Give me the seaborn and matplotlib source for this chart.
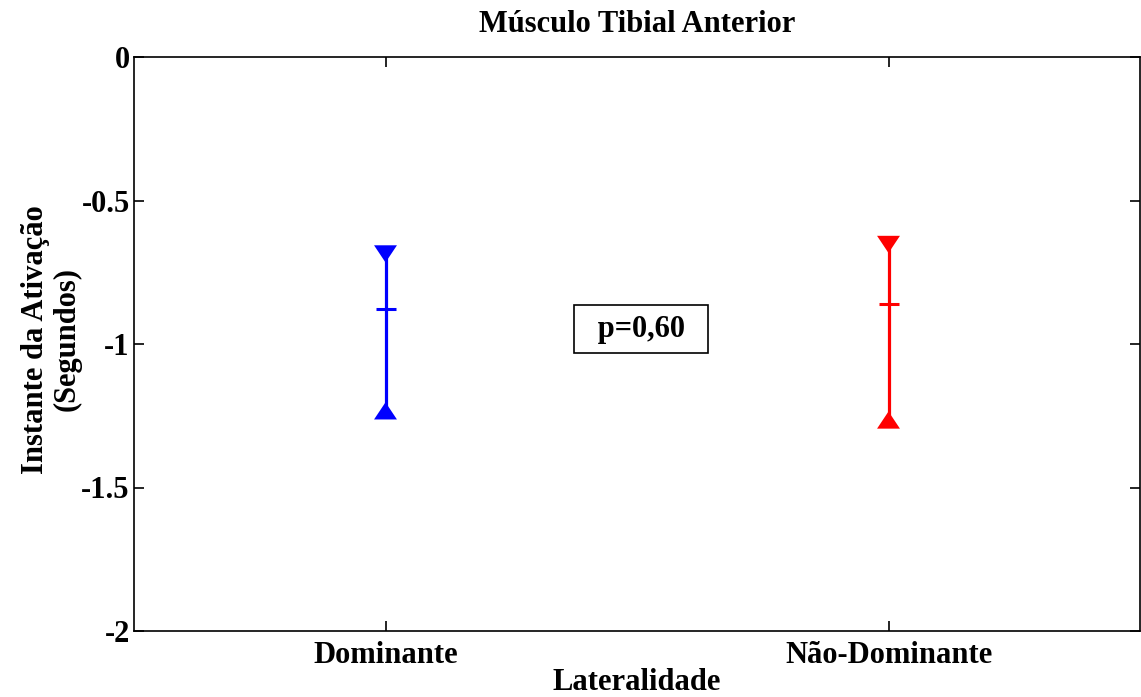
import numpy as np
import pandas as pd
import matplotlib
matplotlib.use("Agg")
import matplotlib.pyplot as plt
import seaborn as sns
from matplotlib.path import Path

categories = ["Dominante", "Não-Dominante"]
means = [-0.877, -0.862]
upper = [-0.686, -0.653]
lower = [-1.233, -1.265]
colors = ["#0000ff", "#ff0000"]
yticks = [0, -0.5, -1, -1.5, -2]
ytick_labels = ["0", "-0.5", "-1", "-1.5", "-2"]

sns.set_theme(style="white")
plt.rcParams["font.family"] = ["Liberation Serif", "DejaVu Serif"]
plt.rcParams["font.weight"] = "bold"
plt.rcParams["text.color"] = "black"
plt.rcParams["axes.labelcolor"] = "black"
plt.rcParams["xtick.color"] = "black"
plt.rcParams["ytick.color"] = "black"
plt.rcParams["axes.titleweight"] = "bold"
plt.rcParams["axes.labelweight"] = "bold"

FS = 22

fig = plt.figure(figsize=(11.41, 6.97), dpi=100)
ax = fig.add_axes([134 / 1141, 1 - 631 / 697, (1140 - 134) / 1141, (631 - 57) / 697])

pos = np.arange(1, len(categories) + 1)
df = pd.DataFrame({"x": pos, "mean": means, "upper": upper, "lower": lower,
                   "cat": categories})

down_tri = Path([(-1, 0.75), (1, 0.75), (0, -0.75), (-1, 0.75)], closed=True)
up_tri = Path([(-1, -0.75), (1, -0.75), (0, 0.75), (-1, -0.75)], closed=True)

for i, row in df.iterrows():
    c = colors[i]
    ax.plot([row["x"], row["x"]], [row["upper"], row["lower"]], color=c, lw=2.3, zorder=2)
sns.scatterplot(data=df, x="x", y="upper", hue="cat", palette=colors, marker=down_tri,
                s=16.5 ** 2, linewidth=0, legend=False, ax=ax, zorder=3)
sns.scatterplot(data=df, x="x", y="lower", hue="cat", palette=colors, marker=up_tri,
                s=16.5 ** 2, linewidth=0, legend=False, ax=ax, zorder=3)
for i, row in df.iterrows():
    ax.plot([row["x"]], [row["mean"]], marker="_", ms=15, mew=2.2, color=colors[i], zorder=3)

ax.set_xlim(0.5, 2.5)
ax.set_ylim(-2, 0)
ax.set_xticks(pos)
ax.set_xticklabels(categories, fontsize=FS, fontweight="bold", color="black")
ax.set_yticks(yticks)
ax.set_yticklabels(ytick_labels, fontsize=FS, fontweight="bold", color="black")
ax.tick_params(axis="y", direction="in", length=7, width=1.2, left=True, right=True, pad=3)
ax.tick_params(axis="x", direction="in", length=7, width=1.2, bottom=True, top=True, pad=7)
for s in ax.spines.values():
    s.set_visible(True)
    s.set_color("black")
    s.set_linewidth(1.2)

ax.set_title("Músculo Tibial Anterior", fontsize=FS, fontweight="bold", color="black", pad=18)
ax.set_xlabel("Lateralidade", fontsize=FS, fontweight="bold", color="black", labelpad=-1)
ax.set_ylabel("Instante da Ativação\n(Segundos)", fontsize=FS, fontweight="bold",
              color="black", labelpad=0, linespacing=1.1)
ax.yaxis.label.set_y(0.508)

ax.text(1.508, -0.948, " \u2009p=0,60\u2009 ", fontsize=FS, fontweight="bold", ha="center",
        va="center", color="black",
        bbox=dict(boxstyle="square,pad=0.3", fc="white", ec="black", lw=1.2))

fig.savefig("out.png", dpi=100)
